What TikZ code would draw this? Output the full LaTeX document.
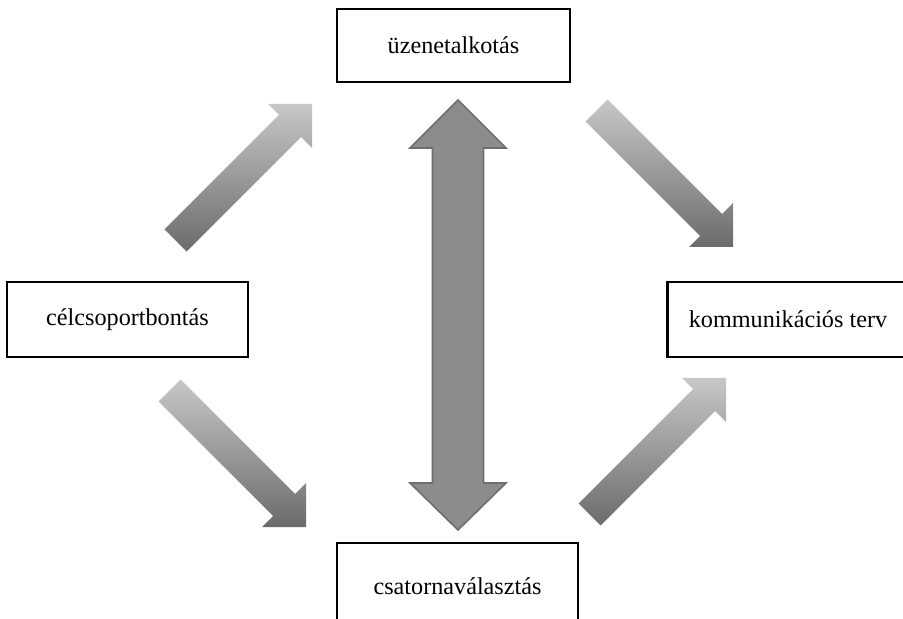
\documentclass[tikz,border=0pt]{standalone}
\usepackage{fontspec}
\setmainfont{Liberation Serif}
\begin{document}
\begin{tikzpicture}[x=0.5pt,y=-0.5pt,
  box/.style={draw=black,line width=1.1pt,fill=white,inner sep=0pt,
    font=\fontsize{12.1}{14}\selectfont},
  bigarrow/.style={fill=black!45,draw=black!57,line width=0.8pt,line join=miter},
  grad/.style={top color=black!22,bottom color=black!58}]
\useasboundingbox (0,0) rectangle (903,619);
\newcommand\diagarrow[4]{%
  \shade[grad]
   (#1,#2)
   -- ({#1-22*#3-22*#4},{#2-22*#4+22*#3})
   -- ({#1-22*#3-11*#4},{#2-22*#4+11*#3})
   -- ({#1-136.5*#3-11*#4},{#2-136.5*#4+11*#3})
   -- ({#1-136.5*#3+11*#4},{#2-136.5*#4-11*#3})
   -- ({#1-22*#3+11*#4},{#2-22*#4-11*#3})
   -- ({#1-22*#3+22*#4},{#2-22*#4-22*#3})
   -- cycle;}
% boxes
\node[box,minimum width=116.5pt,minimum height=36.5pt] (uz) at (453.5,45.5) {üzenetalkotás};
\node[box,minimum width=120.5pt,minimum height=37.5pt] (cel) at (127.5,319.5) {célcsoportbontás};
\node[box,minimum width=120.5pt,minimum height=37.5pt] (kom) at (788,319.5) {kommunikációs terv};
\node[box,minimum width=120.5pt,minimum height=43.5pt] (csa) at (457.5,586.5) {csatornaválasztás};
% diagonal gradient arrows
\diagarrow{312}{104}{1}{-1}
\diagarrow{733}{247}{1}{1}
\diagarrow{306}{527}{1}{1}
\diagarrow{726}{378}{1}{-1}
% double vertical arrow
\coordinate (dt) at (458,100);
\coordinate (db) at (458,530);
\draw[bigarrow] (dt) -- (506,148) -- (483.5,148) -- (483.5,483) -- (506,483)
  -- (db) -- (410,483) -- (432.5,483) -- (432.5,148) -- (410,148) -- cycle;
\end{tikzpicture}
\end{document}
